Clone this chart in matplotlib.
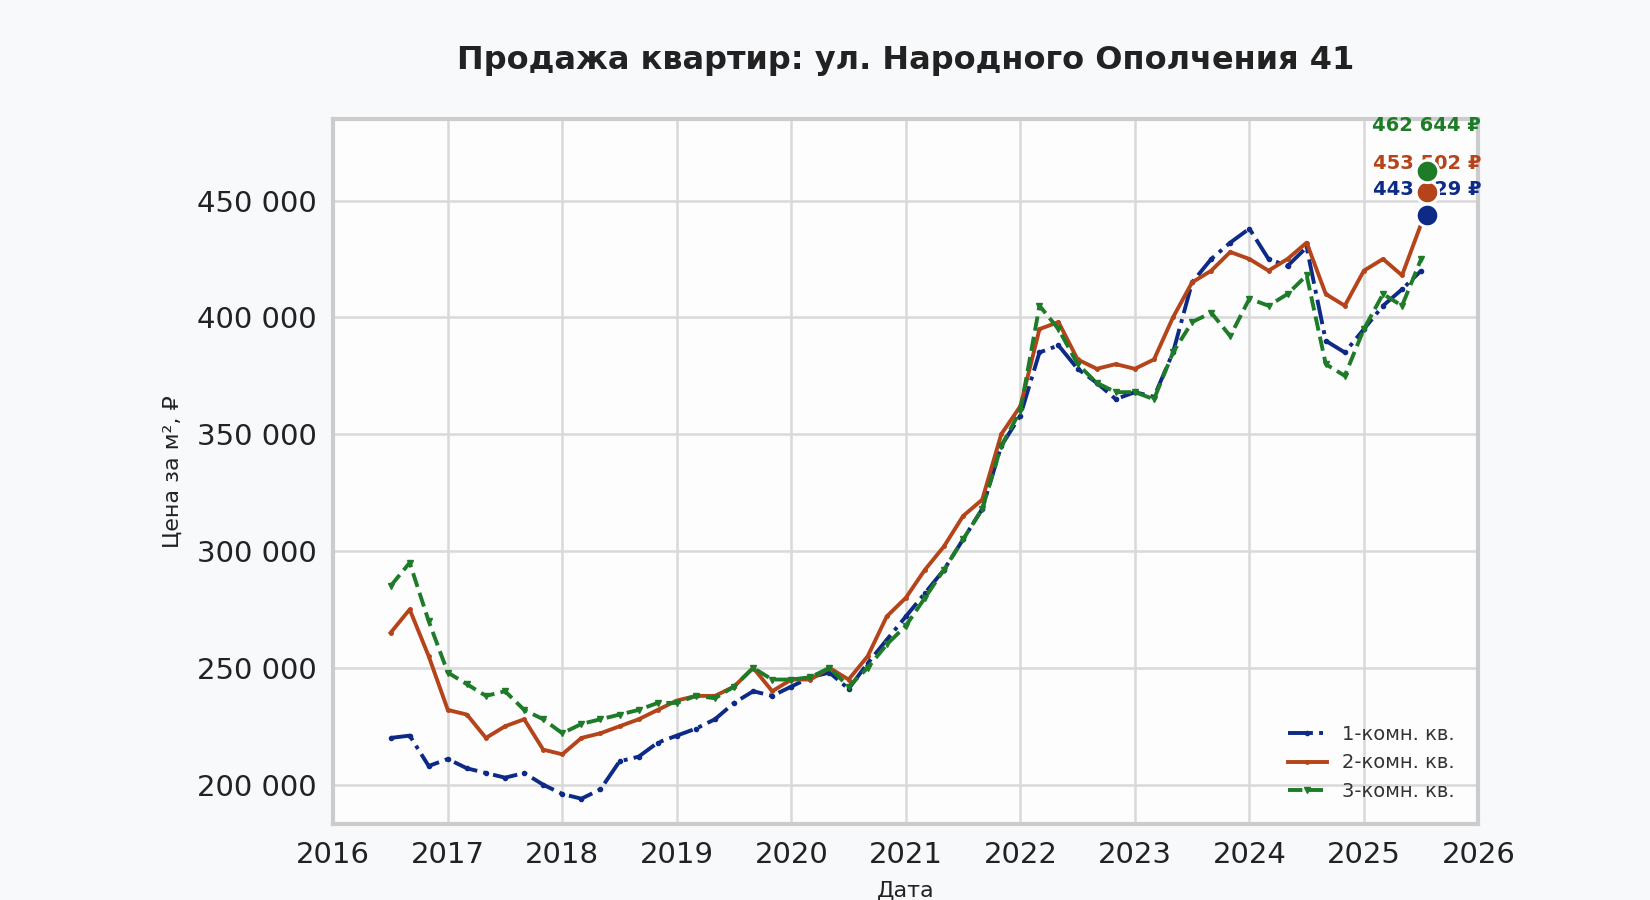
import matplotlib.pyplot as plt
import matplotlib.ticker as mticker
import numpy as np

# bimonthly points, mid-2016 .. mid-2025
years = np.round(np.arange(2016.5, 2025.51, 1 / 6), 3)

price_1room = [220, 221, 208, 211, 207, 205, 203, 205, 200, 196, 194, 198,
               210, 212, 218, 221, 224, 228, 235, 240, 238, 242, 246, 248,
               241, 252, 262, 272, 282, 292, 305, 318, 345, 358, 385, 388,
               378, 372, 365, 368, 366, 385, 415, 425, 432, 438, 425, 422,
               430, 390, 385, 395, 405, 412, 420]
price_2room = [265, 275, 255, 232, 230, 220, 225, 228, 215, 213, 220, 222,
               225, 228, 232, 236, 238, 238, 242, 250, 240, 245, 245, 250,
               245, 255, 272, 280, 292, 302, 315, 322, 350, 362, 395, 398,
               382, 378, 380, 378, 382, 400, 415, 420, 428, 425, 420, 425,
               432, 410, 405, 420, 425, 418, 440]
price_3room = [285, 295, 270, 248, 243, 238, 240, 232, 228, 222, 226, 228,
               230, 232, 235, 235, 238, 237, 242, 250, 245, 245, 246, 250,
               242, 250, 260, 268, 280, 292, 305, 318, 345, 360, 405, 395,
               380, 372, 368, 368, 365, 385, 398, 402, 392, 408, 405, 410,
               418, 380, 375, 395, 410, 405, 425]

last_year = 2025.55
last_vals = [443629, 453502, 462644]
labels = ['1-комн. кв.', '2-комн. кв.', '3-комн. кв.']
colors = ['#0d2a86', '#b5441a', '#1e7b28']

plt.rcParams['font.family'] = ['DejaVu Sans']
fig = plt.figure(figsize=(16.5, 9), dpi=100, facecolor='#f8f9fb')
ax = fig.add_axes([0.202, 0.084, 0.694, 0.784])
ax.set_facecolor('#fdfdfe')

styles = [dict(ls='-.', marker='.', ms=6),
          dict(ls='-', marker='.', ms=5),
          dict(ls='--', marker='v', ms=5)]
for vals, lab, col, st in zip([price_1room, price_2room, price_3room], labels, colors, styles):
    ax.plot(years, np.array(vals) * 1000, color=col, lw=2.8, label=lab, **st)

for val, col in zip(last_vals, colors):
    ax.scatter([last_year], [val], s=260, color=col, edgecolor='white', lw=2, zorder=5)
for val, col, off in zip(last_vals, colors, [(0, 12), (0, 14), (0, 26)]):
    ax.annotate(f'{val:,} ₽'.replace(',', ' '), (last_year, val), xytext=off,
                textcoords='offset points', ha='center', va='bottom',
                color=col, fontsize=14, fontweight='bold')

ax.set_xlim(2016, 2026)
ax.set_ylim(183000, 485000)
ax.set_xticks(range(2016, 2027))
ax.yaxis.set_major_locator(mticker.MultipleLocator(50000))
ax.yaxis.set_major_formatter(mticker.FuncFormatter(lambda v, p: f'{int(v):,}'.replace(',', ' ')))
ax.tick_params(labelsize=21, colors='#222222', length=0, pad=12)
ax.grid(True, color='#d9d9d9', lw=1.8)
for s in ax.spines.values():
    s.set_color('#cccccc')
    s.set_linewidth(3)

ax.set_title('Продажа квартир: ул. Народного Ополчения 41', fontsize=23,
             fontweight='bold', color='#222222', pad=36)
ax.set_xlabel('Дата', fontsize=16, color='#222222', labelpad=8)
ax.set_ylabel('Цена за м², ₽', fontsize=16, color='#222222', labelpad=10)
ax.legend(loc='lower right', frameon=False, fontsize=14, labelcolor='#333333',
          borderaxespad=0.8)

fig.savefig('out.png', dpi=100, facecolor=fig.get_facecolor())
